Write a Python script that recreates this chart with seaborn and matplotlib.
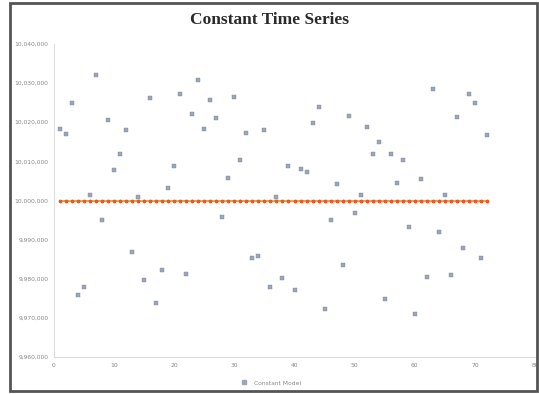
import numpy as np
import pandas as pd
import matplotlib
matplotlib.use("Agg")
import matplotlib.pyplot as plt
import seaborn as sns
from matplotlib.patches import Rectangle
from matplotlib.ticker import FuncFormatter

# ── Data ────────────────────────────────────────────────────
time_idx = list(range(1, 73))
base_level = 10_000_000
# deviation from the constant level, in thousands
deviation_k = [
    18.4, 17.1, 24.9, -24.2, -22.1, 1.3, 32.1, -4.9, 20.5, 7.7,
    12.0, 18.1, -13.1, 0.8, -20.3, 26.2, -26.3, -17.8, 3.3, 8.8,
    27.1, -18.8, 22.2, 30.9, 18.2, 25.8, 21.2, -4.1, 5.8, 26.5,
    10.3, 17.3, -14.8, -14.1, 18.1, -22.1, 0.8, -19.9, 8.8, -22.8,
    8.1, 7.3, 19.8, 23.9, -27.8, -4.9, 4.3, -16.4, 21.5, -3.2,
    1.3, 18.8, 12.0, 14.9, -25.1, 11.8, 4.4, 10.3, -6.8, -28.9,
    5.6, -19.5, 28.4, -8.1, 1.3, -19.1, 21.4, -12.1, 27.1, 24.8,
    -14.7, 16.8,
]
observed = [base_level + d * 1000 for d in deviation_k]
constant = [base_level] * len(time_idx)

df = pd.DataFrame({"t": time_idx, "observed": observed, "constant": constant})

# ── Plot ────────────────────────────────────────────────────
sns.set_style("white")

fig = plt.figure(figsize=(5.39, 3.94), dpi=100)
ax = fig.add_axes([54 / 539, 1 - 357 / 394, 481 / 539, 313 / 394])

sns.lineplot(data=df, x="t", y="constant", ax=ax, color="#ffa040",
             linewidth=1.5, marker="o", markersize=2.0,
             markerfacecolor="#e05a28", markeredgecolor="#e05a28",
             zorder=2)
sns.scatterplot(data=df, x="t", y="observed", ax=ax, color="#9aa6b8",
                marker="s", s=5, edgecolor="#7d8898", linewidth=0.3,
                legend=False, zorder=3)

ax.set_xlim(0, 80)
ax.set_ylim(base_level - 40_000, base_level + 40_000)
ax.set_xticks(range(0, 81, 10))
ax.set_yticks(range(base_level - 40_000, base_level + 40_001, 10_000))
ax.yaxis.set_major_formatter(FuncFormatter(lambda v, p: f"{v:,.0f}"))
ax.tick_params(labelsize=4.3, colors="#888888", length=0, pad=4)
ax.set_xlabel("")
ax.set_ylabel("")

for side in ["top", "right"]:
    ax.spines[side].set_visible(False)
for side in ["left", "bottom"]:
    ax.spines[side].set_color("#dddddd")
    ax.spines[side].set_linewidth(0.8)

fig.suptitle("Constant Time Series", y=0.97, fontsize=12.5,
             fontweight="bold", family="Liberation Serif", color="#2a2a2a")

handles = [plt.Line2D([], [], marker="s", linestyle="", color="#9aa6b8",
                      markersize=2.5)]
fig.legend(handles, ["Constant Model"], loc="center",
           bbox_to_anchor=(0.5, 0.028), frameon=False, fontsize=4.3,
           labelcolor="#888888", handletextpad=0.6)

# outer frame around the whole picture
fig.patches.append(Rectangle((10 / 539, 3 / 394), 527 / 539, 388 / 394,
                             transform=fig.transFigure, fill=False,
                             edgecolor="#555555", linewidth=2.0))

plt.savefig("out.png", dpi=100)
